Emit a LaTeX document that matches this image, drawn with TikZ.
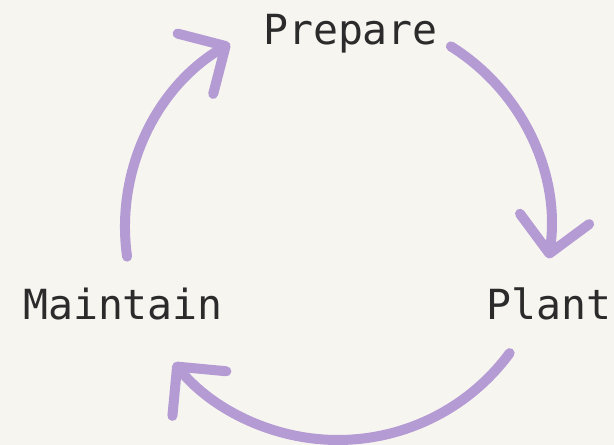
\documentclass[tikz,border=0pt]{standalone}
\usepackage{fontspec}
\setmonofont{DejaVu Sans Mono}
\usepackage{tikz}
\usetikzlibrary{arrows.meta}
\definecolor{bg}{HTML}{F7F5F0}
\definecolor{ink}{HTML}{2B2B2B}
\definecolor{lilac}{HTML}{B59BD4}
\tikzset{
  stage/.style={font=\ttfamily\fontsize{41.5}{48}\selectfont, text=ink, anchor=base, inner sep=0pt},
  cyc/.style={draw=lilac, line width=10pt, line cap=round, -{Straight Barb[length=35pt, width=70pt, round]}}
}
\begin{document}
\begin{tikzpicture}[x=1pt,y=1pt]
\fill[bg] (0,0) rectangle (614,445);
\useasboundingbox (0,0) rectangle (614,445);
\coordinate (hub) at (338,218);
\node[stage] (prep) at (350.5,400) {Prepare};
\node[stage] (plant) at (549,125) {Plant};
\node[stage] (maint) at (123,125) {Maintain};
% the cycle, clockwise
\draw[cyc] ([shift={(58:213)}]hub) arc[start angle=58, end angle=-8.5, radius=213];
\draw[cyc] ([shift={(-36.3:213)}]hub) arc[start angle=-36.3, end angle=-140.4, radius=213];
\draw[cyc] ([shift={(188:213)}]hub) arc[start angle=188, end angle=120.5, radius=213];
\end{tikzpicture}
\end{document}
